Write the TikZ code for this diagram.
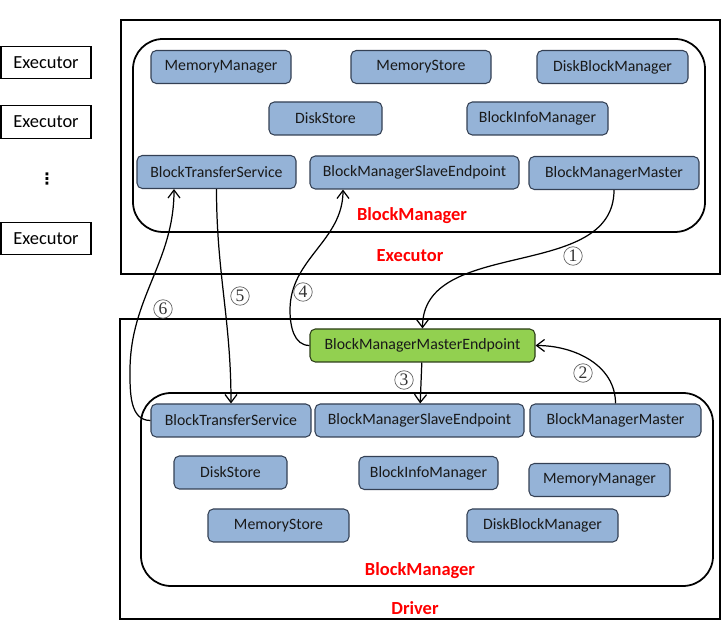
\documentclass[tikz,border=0pt]{standalone}
\usepackage{fontspec}
\setmainfont{Carlito}
\newfontfamily\circfont{Liberation Serif}
\newfontfamily\symfont{DejaVu Sans}
\usetikzlibrary{arrows.meta}
\definecolor{boxblue}{RGB}{149,179,215}
\definecolor{boxline}{RGB}{52,64,84}
\definecolor{endgreen}{RGB}{146,208,80}

\begin{document}
\begin{tikzpicture}[
  comp/.style={draw=boxline,fill=boxblue,rounded corners=3pt,line width=0.6pt,minimum height=0.66cm,inner sep=1pt,text=black!90,font=\fontsize{9}{11}\selectfont},
  gcomp/.style={comp,fill=endgreen,draw=black!70!endgreen},
  exec/.style={draw,line width=0.6pt,minimum width=1.8cm,minimum height=0.65cm,font=\fontsize{10.5}{12}\selectfont},
  redlabel/.style={text=red,font=\bfseries\fontsize{10.5}{12}\selectfont},
  stepnum/.style={circle,draw=black!60,line width=0.4pt,inner sep=0pt,minimum size=0.37cm,text=black!80,font=\circfont\fontsize{10}{10}\selectfont},
  link/.style={line width=0.7pt,-{Straight Barb[length=1.6mm,width=2.4mm]}}
]
  \useasboundingbox (0,0) rectangle (14.5,12.42);

  % executors on the left
  \node[exec] (ex1) at (0.92,11.17) {Executor};
  \node[exec] (ex2) at (0.92,9.98) {Executor};
  \node[font=\symfont\bfseries\fontsize{9}{9}\selectfont] (dots) at (0.94,8.84) {⋮};
  \node[exec] (ex3) at (0.92,7.65) {Executor};

  % executor frame
  \draw[line width=0.9pt] (2.42,6.94) rectangle (14.40,12.02);
  \draw[line width=1pt,rounded corners=0.6cm] (2.66,7.78) rectangle (14.10,11.64);
  \node[comp,minimum width=2.80cm] (exMem) at (4.420,11.080) {MemoryManager};
  \node[comp,minimum width=2.80cm] (exMemSt) at (8.420,11.080) {MemoryStore};
  \node[comp,minimum width=3.02cm] (exDiskBM) at (12.250,11.080) {DiskBlockManager};
  \node[comp,minimum width=2.26cm] (exDisk) at (6.510,10.050) {DiskStore};
  \node[comp,minimum width=2.82cm] (exInfo) at (10.750,10.050) {BlockInfoManager};
  \node[comp,minimum width=3.18cm] (exBTS) at (4.330,8.980) {BlockTransferService};
  \node[comp,minimum width=4.18cm] (exSlave) at (8.290,8.970) {BlockManagerSlaveEndpoint};
  \node[comp,minimum width=3.40cm] (exMaster) at (12.280,8.960) {BlockManagerMaster};
  \node[redlabel] (exBM) at (8.240,8.100) {BlockManager};
  \node[redlabel] (exName) at (8.200,7.300) {Executor};

  % driver frame
  \draw[line width=0.9pt] (2.40,0.04) rectangle (14.40,6.04);
  \draw[line width=1pt,rounded corners=0.6cm] (2.82,0.70) rectangle (14.26,4.56);
  \node[gcomp,minimum width=4.50cm] (bmmEnd) at (8.450,5.510) {BlockManagerMasterEndpoint};
  \node[comp,minimum width=3.20cm] (drBTS) at (4.620,4.010) {BlockTransferService};
  \node[comp,minimum width=4.18cm] (drSlave) at (8.390,4.010) {BlockManagerSlaveEndpoint};
  \node[comp,minimum width=3.42cm] (drMaster) at (12.310,4.010) {BlockManagerMaster};
  \node[comp,minimum width=2.26cm] (drDisk) at (4.610,2.970) {DiskStore};
  \node[comp,minimum width=2.78cm] (drInfo) at (8.570,2.960) {BlockInfoManager};
  \node[comp,minimum width=2.82cm] (drMem) at (11.990,2.820) {MemoryManager};
  \node[comp,minimum width=2.82cm] (drMemSt) at (5.570,1.910) {MemoryStore};
  \node[comp,minimum width=3.02cm] (drDiskBM) at (10.850,1.910) {DiskBlockManager};
  \node[redlabel] (drBM) at (8.400,1.000) {BlockManager};
  \node[redlabel] (drName) at (8.300,0.260) {Driver};

  % steps
  \draw[link] (exMaster.south) to[out=-90,in=90] (bmmEnd.north);
  \draw[link] (drMaster.north) to[out=90,in=0] (bmmEnd.east);
  \draw[link] (bmmEnd) -- (drSlave);
  \coordinate (bend4) at (5.80,6.22);
  \draw[link] (bmmEnd.west) to[out=180,in=-90] (bend4) to[out=90,in=-90] ([xshift=-1.43cm]exSlave.south);
  \draw[link] (exBTS.south) to[out=-90,in=90] (drBTS.north);
  \coordinate (bend6) at (2.60,5.00);
  \draw[link] (drBTS.west) to[out=180,in=-90] (bend6) to[out=90,in=-90] ([xshift=-0.85cm]exBTS.south);

  \node[stepnum] (n1) at (11.460,7.300) {1};
  \node[stepnum] (n2) at (11.660,4.960) {2};
  \node[stepnum] (n3) at (8.080,4.820) {3};
  \node[stepnum] (n4) at (6.060,6.580) {4};
  \node[stepnum] (n5) at (4.800,6.500) {5};
  \node[stepnum] (n6) at (3.260,6.240) {6};
\end{tikzpicture}
\end{document}
